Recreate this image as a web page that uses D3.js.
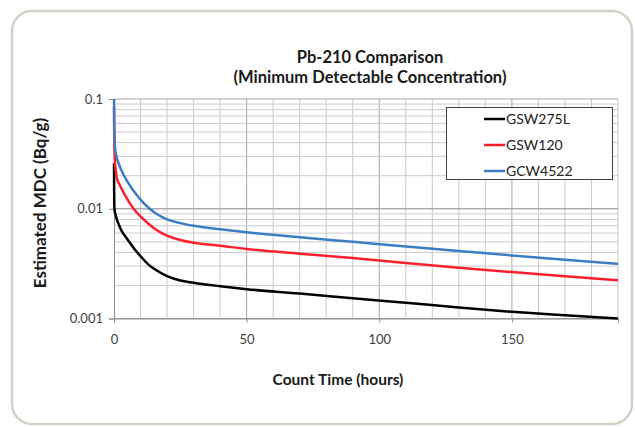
<!DOCTYPE html>
<html>
<head>
<meta charset="utf-8">
<script src="https://cdn.jsdelivr.net/npm/d3@7"></script>
<style>
  body { margin: 0; background: #fff; }
  svg text { font-family: Lato, "Open Sans", sans-serif; }
</style>
</head>
<body>
<div id="chart"></div>
<script>
// data (count time in hours, MDC in Bq/g)
var seriesNames = ["GSW275L", "GSW120", "GCW4522"];
var seriesColors = ["#000000", "#ff1f2f", "#3c7dc4"];

var countTime = [0.02, 0.05, 0.1, 0.2, 0.4, 0.7, 1, 2, 3, 4.5, 6, 8, 10, 13, 16, 20, 25, 30, 40, 50, 70, 90, 110, 130, 150, 170, 190];

var mdcGSW275L = [0.026, 0.015, 0.0112, 0.0098, 0.0092, 0.0086, 0.0081, 0.0070, 0.0062, 0.0055, 0.0049, 0.0042, 0.0037, 0.0031, 0.00275, 0.00243, 0.00222, 0.00212, 0.00197, 0.00185, 0.00169, 0.00153, 0.00139, 0.00126, 0.00115, 0.00107, 0.001];
var mdcGSW120 = [0.085, 0.06, 0.045, 0.032, 0.026, 0.022, 0.0195, 0.0168, 0.0150, 0.0128, 0.0112, 0.0096, 0.0085, 0.0073, 0.0064, 0.0057, 0.0052, 0.0049, 0.0046, 0.0043, 0.0039, 0.00355, 0.0032, 0.0029, 0.00265, 0.00243, 0.00223];
var mdcGCW4522 = [0.1, 0.075, 0.058, 0.045, 0.036, 0.032, 0.0295, 0.025, 0.0218, 0.0186, 0.0163, 0.0139, 0.0121, 0.0102, 0.0090, 0.0080, 0.0074, 0.0070, 0.0065, 0.0061, 0.0055, 0.0050, 0.00454, 0.00413, 0.00375, 0.00343, 0.00315];

var xTicks = [0, 50, 100, 150];
var yTicks = [0.001, 0.01, 0.1];

var svgWidth = 635, svgHeight = 427;
var plot = { left: 114, right: 618, top: 99, bottom: 318.5 };

var svg = d3.select("#chart").append("svg")
    .attr("width", svgWidth)
    .attr("height", svgHeight);

// rounded frame
svg.append("rect")
    .attr("x", 12).attr("y", 11)
    .attr("width", 620).attr("height", 413)
    .attr("rx", 20).attr("ry", 20)
    .attr("fill", "#fff")
    .attr("stroke", "#d2d2c4")
    .attr("stroke-width", 2.5);

var xScale = d3.scaleLinear().domain([0, 190]).range([plot.left, plot.right]);
var yScale = d3.scaleLog().domain([0.001, 0.1]).range([plot.bottom, plot.top]);

var grid = svg.append("g");

// vertical grid, every 10 h
d3.range(10, 191, 10).forEach(function(t) {
  grid.append("line")
      .attr("x1", xScale(t)).attr("x2", xScale(t))
      .attr("y1", plot.top).attr("y2", plot.bottom)
      .attr("stroke", t % 50 === 0 ? "#a6a6a6" : "#c8c8c8")
      .attr("stroke-width", 1);
});

// horizontal grid, 1..9 per decade
[0.001, 0.01].forEach(function(dec) {
  d3.range(1, 11).forEach(function(k) {
    var v = dec * k;
    grid.append("line")
        .attr("x1", plot.left).attr("x2", plot.right)
        .attr("y1", yScale(v)).attr("y2", yScale(v))
        .attr("stroke", k === 1 || k === 10 ? "#a6a6a6" : "#cbcbcb")
        .attr("stroke-width", 1);
  });
});

// axes
var bottomAxis = d3.axisBottom(xScale).tickValues(xTicks).tickSize(4).tickFormat(d3.format("d"));
var leftAxis = d3.axisLeft(yScale).tickValues(yTicks).tickSize(5).tickFormat(function(d) { return String(+d.toPrecision(1)); });

var gx = svg.append("g")
    .attr("transform", `translate(0, ${plot.bottom})`)
    .call(bottomAxis);
gx.select(".domain").attr("stroke", "#8c8c8c");
gx.selectAll(".tick line").attr("stroke", "#8c8c8c");
gx.selectAll("text")
    .attr("y", 16)
    .style("font-size", "13px")
    .attr("fill", "#404040");

var gy = svg.append("g")
    .attr("transform", `translate(${plot.left}, 0)`)
    .call(leftAxis);
gy.select(".domain").attr("stroke", "#8c8c8c");
gy.selectAll(".tick line").attr("stroke", "#8c8c8c");
gy.selectAll("text")
    .attr("x", -11)
    .style("font-size", "13px")
    .attr("fill", "#404040");

// lines
var seriesValues = [mdcGSW275L, mdcGSW120, mdcGCW4522];
var line = d3.line()
    .x(d => xScale(d[0]))
    .y(d => yScale(d[1]))
    .curve(d3.curveMonotoneX);

seriesNames.forEach(function(name, i) {
  var pts = countTime.map((t, j) => [t, seriesValues[i][j]]);
  svg.append("path")
      .datum(pts)
      .attr("fill", "none")
      .attr("stroke", seriesColors[i])
      .attr("stroke-width", 2.5)
      .attr("d", line);
});

// legend
var legend = svg.append("g");
legend.append("rect")
    .attr("x", 446.5).attr("y", 107.5)
    .attr("width", 166).attr("height", 72)
    .attr("fill", "#fff")
    .attr("stroke", "#404040")
    .attr("stroke-width", 1);
seriesNames.forEach(function(name, i) {
  var ly = 119 + i * 26;
  legend.append("line")
      .attr("x1", 484).attr("x2", 505)
      .attr("y1", ly).attr("y2", ly)
      .attr("stroke", seriesColors[i])
      .attr("stroke-width", 2.5);
  legend.append("text")
      .attr("x", 506).attr("y", ly)
      .attr("dy", "0.35em")
      .style("font-size", "14px")
      .attr("fill", "#222")
      .text(name);
});

// titles
svg.append("text")
    .attr("x", 370).attr("y", 63)
    .attr("text-anchor", "middle")
    .style("font-size", "16.5px").style("font-weight", "bold")
    .attr("fill", "#1a1a1a")
    .text("Pb-210 Comparison");
svg.append("text")
    .attr("x", 370).attr("y", 83)
    .attr("text-anchor", "middle")
    .style("font-size", "16.5px").style("font-weight", "bold")
    .attr("fill", "#1a1a1a")
    .text("(Minimum Detectable Concentration)");

svg.append("text")
    .attr("x", 338).attr("y", 385)
    .attr("text-anchor", "middle")
    .style("font-size", "15.5px").style("font-weight", "bold")
    .attr("fill", "#1a1a1a")
    .text("Count Time (hours)");

svg.append("text")
    .attr("transform", "rotate(-90)")
    .attr("x", -203).attr("y", 46)
    .attr("text-anchor", "middle")
    .style("font-size", "17px").style("font-weight", "bold")
    .attr("fill", "#1a1a1a")
    .text("Estimated MDC (Bq/g)");
</script>
</body>
</html>
